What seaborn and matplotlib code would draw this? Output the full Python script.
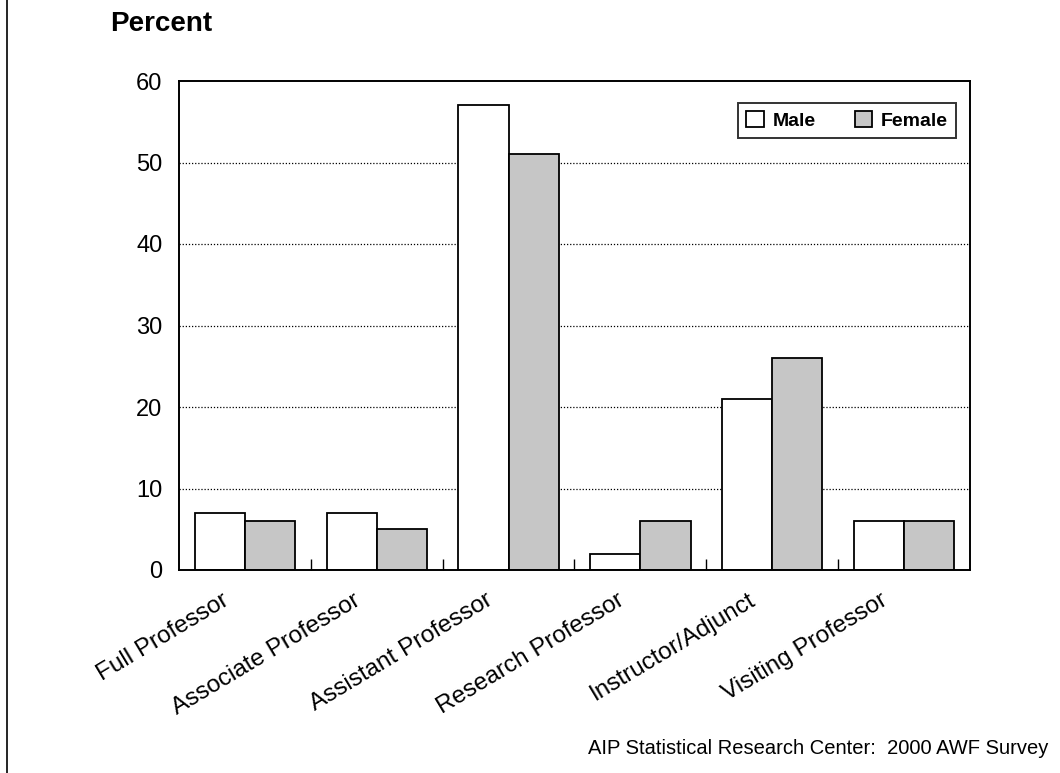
import matplotlib
matplotlib.use("Agg")
import matplotlib.pyplot as plt
import matplotlib.transforms as mtransforms
import seaborn as sns
import pandas as pd

categories = ["Full Professor", "Associate Professor", "Assistant Professor",
              "Research Professor", "Instructor/Adjunct", "Visiting Professor"]
male = [7, 7, 57, 2, 21, 6]
female = [6, 5, 51, 6, 26, 6]
yticks = [0, 10, 20, 30, 40, 50, 60]

df = pd.DataFrame({
    "cat": categories * 2,
    "val": male + female,
    "sex": ["Male"] * len(categories) + ["Female"] * len(categories),
})

sns.set_style("white")
plt.rcParams["font.family"] = ["Liberation Sans", "DejaVu Sans"]
plt.rcParams["text.color"] = "black"
plt.rcParams["xtick.color"] = "black"
plt.rcParams["ytick.color"] = "black"

fig = plt.figure(figsize=(10.6, 7.73), dpi=100)
ax = fig.add_axes([179 / 1060, 1 - 570 / 773, 791 / 1060, 489 / 773])

sns.barplot(data=df, x="cat", y="val", hue="sex", order=categories,
            hue_order=["Male", "Female"], palette={"Male": "white", "Female": "#c6c6c6"},
            edgecolor="black", linewidth=1.3, width=0.76, ax=ax, legend=True)

ax.set_ylim(0, 60)
ax.set_xlim(-0.5, len(categories) - 0.5)
ax.set_yticks(yticks)
ax.set_yticklabels([str(t) for t in yticks], fontsize=17)
for t in yticks[1:-1]:
    ax.axhline(t, color="black", linestyle=(0, (1, 1.5)), linewidth=0.9, zorder=0)
ax.set_xticks(range(len(categories)))
ax.set_xticklabels(categories, rotation=31, ha="right", va="top",
                   rotation_mode="anchor", fontsize=17.5)
ax.tick_params(axis="x", length=0, pad=14)
ax.tick_params(axis="y", length=0, pad=12)
offset = mtransforms.ScaledTranslation(-24 / 100, 0, fig.dpi_scale_trans)
for lbl in ax.get_xticklabels():
    lbl.set_transform(lbl.get_transform() + offset)
# minor ticks between groups
ax.set_xticks([i + 0.5 for i in range(len(categories) - 1)], minor=True)
ax.tick_params(axis="x", which="minor", length=8, direction="in", bottom=True, width=1)
ax.set_xlabel("")
ax.set_ylabel("")
for s in ax.spines.values():
    s.set_visible(True)
    s.set_color("black")
    s.set_linewidth(1.4)

leg = ax.legend(loc="upper right", bbox_to_anchor=(986 / 1060 * 0 + (956 - 179) / 791, 1 - (103 - 81) / 489),
                borderaxespad=0, ncol=2, frameon=True,
                fancybox=False, edgecolor="black", handlelength=0.9, handleheight=0.9,
                columnspacing=2.0, handletextpad=0.45, borderpad=0.42,
                prop={"weight": "bold", "size": 14})
leg.get_frame().set_linewidth(1.4)

fig.text(110 / 1060, 1 - 24 / 773, "Percent", fontsize=20, fontweight="bold", va="center", ha="left")
fig.text(1048 / 1060, 1 - 748 / 773, "AIP Statistical Research Center:  2000 AWF Survey",
         fontsize=14.5, ha="right", va="center")
fig.add_artist(plt.Line2D([7 / 1060, 7 / 1060], [0, 1], color="black", linewidth=1.2))

fig.savefig("out.png", dpi=100)
